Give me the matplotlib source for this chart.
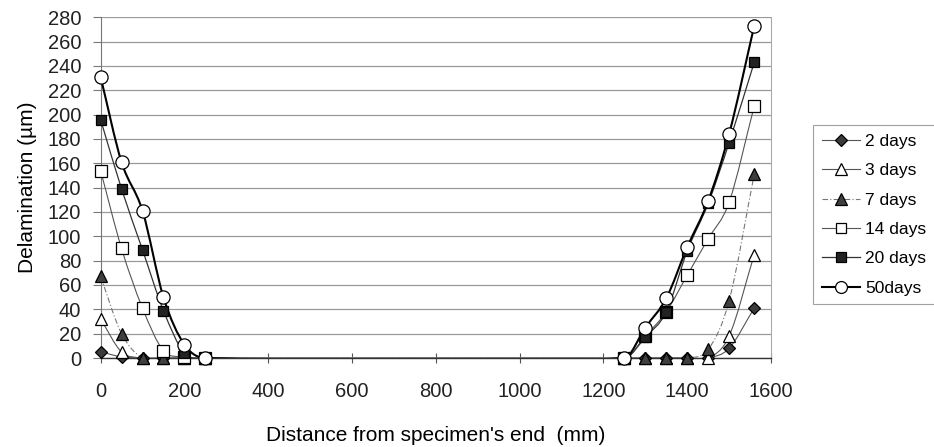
import numpy as np
import matplotlib
matplotlib.use("Agg")
import matplotlib.pyplot as plt
from matplotlib.path import Path
from matplotlib.patches import PathPatch
from matplotlib.lines import Line2D

plt.rcParams['font.family'] = ['Liberation Sans', 'DejaVu Sans']

# ======================
# DATA
# ======================
distance = [0, 50, 100, 150, 200, 250, 1250, 1300, 1350, 1400, 1450, 1500, 1560]

days_2 = [5, 1, 0, 0, 0, 0, 0, 0, 0, 0, 0, 8, 41]
days_3 = [32, 5, 0, 0, 0, 0, 0, 0, 0, 0, 0, 18, 85]
days_7 = [67, 20, 0, 0, 0, 0, 0, 0, 0, 0, 7, 47, 151]
days_14 = [154, 90, 41, 6, 1, 0, 0, 18, 38, 68, 98, 128, 207]
days_20 = [196, 139, 89, 39, 4, 0, 0, 17, 38, 88, 127, 177, 243]
days_50 = [231, 161, 121, 50, 11, 0, 0, 25, 49, 91, 129, 184, 273]

labels = ["2 days", "3 days", "7 days", "14 days", "20 days", "50days"]
series = [days_2, days_3, days_7, days_14, days_20, days_50]

yticks = list(range(0, 281, 20))
xticks = list(range(0, 1601, 200))

# ======================
# STYLES
# ======================
styles = [
    dict(marker="D", mfc="#3a3a3a", ms=6.5, ls="-", lc="#555555", lw=0.8),
    dict(marker="^", mfc="white", ms=9, ls="-", lc="#555555", lw=0.8),
    dict(marker="^", mfc="#3f3f3f", ms=9, ls=(0, (5, 2, 1, 2)), lc="#777777", lw=0.8),
    dict(marker="s", mfc="white", ms=8.5, ls="-", lc="#555555", lw=0.8),
    dict(marker="s", mfc="#222222", ms=7.5, ls="-", lc="#333333", lw=0.9),
    dict(marker="o", mfc="white", ms=9.5, ls="-", lc="black", lw=1.5),
]


def smooth_path(x, y):
    # smoothed line: cubic bezier per segment, tangents from neighbours
    x = np.asarray(x, float)
    y = np.asarray(y, float)
    n = len(x)
    slope = np.zeros(n)
    for i in range(n):
        a = max(i - 1, 0)
        b = min(i + 1, n - 1)
        slope[i] = (y[b] - y[a]) / (x[b] - x[a])
    verts = [(x[0], y[0])]
    codes = [Path.MOVETO]
    for i in range(n - 1):
        h = x[i + 1] - x[i]
        c1 = (x[i] + h / 3, y[i] + slope[i] * h / 3)
        c2 = (x[i + 1] - h / 3, y[i + 1] - slope[i + 1] * h / 3)
        verts += [c1, c2, (x[i + 1], y[i + 1])]
        codes += [Path.CURVE4] * 3
    return Path(verts, codes)


# ======================
# PLOT
# ======================
fig = plt.figure(figsize=(9.34, 4.47), dpi=100)
ax = fig.add_axes([100.6 / 934, 89 / 447, 670.4 / 934, 340.7 / 447])

handles = []
for lab, vals, st in zip(labels, series, styles):
    patch = PathPatch(smooth_path(distance, vals), fill=False, edgecolor=st["lc"],
                      lw=st["lw"], linestyle=st["ls"], zorder=3)
    ax.add_patch(patch)
    ax.plot(distance, vals, ls="none", marker=st["marker"], ms=st["ms"],
            mfc=st["mfc"], mec="black", mew=0.9, zorder=4, clip_on=False)
    handles.append(Line2D([], [], color=st["lc"], lw=st["lw"], ls=st["ls"],
                          marker=st["marker"], ms=st["ms"] * 0.9, mfc=st["mfc"],
                          mec="black", mew=0.9))

ax.set_xlim(0, 1600)
ax.set_ylim(0, 280)
ax.set_xticks(xticks)
ax.set_yticks(yticks)
ax.tick_params(axis="both", labelsize=14.5, colors="#222222")
ax.tick_params(axis="y", direction="out", length=6, color="#777777", pad=8)
ax.tick_params(axis="x", direction="inout", length=7, color="#555555", pad=14)
ax.yaxis.grid(True, color="#9a9a9a", lw=0.9)
ax.set_axisbelow(True)

ax.spines["top"].set_visible(False)
ax.spines["right"].set_color("#aaaaaa")
ax.spines["left"].set_color("#777777")
ax.spines["bottom"].set_color("#333333")
ax.spines["bottom"].set_linewidth(1.0)

ax.set_ylabel("Delamination (µm)", fontsize=15, labelpad=8)
ax.set_xlabel("Distance from specimen's end  (mm)", fontsize=15, labelpad=18)

leg = fig.legend(handles, labels, loc="upper left",
                 bbox_to_anchor=(813 / 934, 1 - 125 / 447),
                 fontsize=12.5, frameon=True, fancybox=False,
                 handlelength=2.2, handletextpad=0.3, labelspacing=0.82,
                 borderpad=0.5, borderaxespad=0)
leg.get_frame().set_edgecolor("#888888")
leg.get_frame().set_linewidth(0.8)

fig.savefig("out.png", dpi=100)
